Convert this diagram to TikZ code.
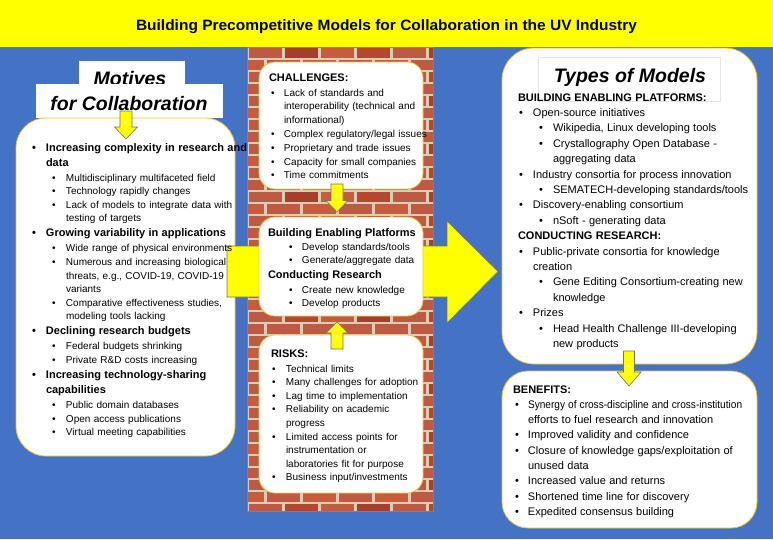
\documentclass[tikz,border=0pt]{standalone}
\usepackage{fontspec}
\setmainfont{Liberation Sans}
\usepackage{graphicx}
\usetikzlibrary{calc}
\definecolor{bgblue}{HTML}{4472C4}
\definecolor{ttlyellow}{HTML}{FFFF00}
\definecolor{boxline}{HTML}{F2C037}
\definecolor{mortar}{HTML}{D9CDB8}
\definecolor{brick0}{HTML}{B5472F}
\definecolor{brick1}{HTML}{C45C3E}
\definecolor{brick2}{HTML}{A53E2B}
\definecolor{brick3}{HTML}{BC5A44}
\newcommand\itm[3]{\leftskip=#1\relax\noindent\hangindent=#2\relax\hangafter=1\relax{\rfont\makebox[#2][l]{\textbullet}#3\par}}
\newcommand\itmb[3]{\leftskip=#1\relax\noindent\hangindent=#2\relax\hangafter=1\relax{\bfont\makebox[#2][l]{\textbullet}#3\par}\vskip\bgap}
\newcommand\hdg[2]{\leftskip=#1\relax\noindent{\bfont #2\par}\vskip\bgap}
\newcommand\fatv[6]{\draw[yarr] ({#1-#4},#2) -- ({#1+#4},#2) -- ({#1+#4},{#3-(#6)}) -- ({#1+#5},{#3-(#6)}) -- (#1,#3) -- ({#1-#5},{#3-(#6)}) -- ({#1-#4},{#3-(#6)}) -- cycle;}
\begin{document}
\begin{tikzpicture}[x=1pt,y=-1pt,
  rbox/.style={draw=boxline, line width=0.8pt, fill=white, inner sep=0pt, outer sep=0pt, anchor=north west},
  wbox/.style={fill=white, inner sep=0pt, outer sep=0pt, anchor=north west},
  txt/.style={inner sep=0pt, outer sep=0pt, anchor=base west, text width=300pt},
  yarr/.style={fill=ttlyellow, draw=black!55, line width=0.6pt, line join=miter},
  clab/.style={text=white, font=\fontsize{6.5}{7}\selectfont, inner sep=0pt},
  bigt/.style={font=\fontsize{19.5}{22}\selectfont\bfseries\itshape, inner sep=0pt, anchor=base}]
\useasboundingbox (0,0) rectangle (773,539);
\fill[bgblue] (0,0) rectangle (773,539);
\fill[ttlyellow] (0,0) rectangle (773,47);
\node[anchor=base, inner sep=0pt] (title) at (386.5,30.7) {\resizebox{501pt}{\height}{\fontsize{15}{18}\selectfont\bfseries Building Precompetitive Models for Collaboration in the UV Industry}};
% brick wall
\begin{scope}
\clip (247,47) rectangle (433,511);
\fill[mortar] (247,47) rectangle (433,511);
\foreach \r in {0,...,38}{
  \foreach \c in {0,...,6}{
    \pgfmathsetmacro\bx{247+(\c-1)*36+mod(\r,2)*18+1.5}
    \pgfmathsetmacro\by{47+\r*12+1}
    \pgfmathtruncatemacro\k{mod(\r*5+\c*3+\r*\c*7,4)}
    \fill[brick\k] (\bx,\by) rectangle ++(33,10);
  }
}
\end{scope}
\node[anchor=north west, minimum width=186pt, minimum height=464pt, inner sep=0pt, outer sep=0pt, draw=black!50, line width=0.5pt] (wall) at (247,47) {};
% motives
\node[wbox, minimum width=106pt, minimum height=34pt] (motboxA) at (79,61) {};
\node[bigt] (motA) at (130,85.5) {Motives};
\node[wbox, minimum width=187pt, minimum height=34pt] (motboxB) at (36,84) {};
\node[bigt] (motB) at (129,110) {for Collaboration};
\node[rbox, rounded corners=30pt, minimum width=219pt, minimum height=338pt] (motbox) at (16,118) {};
\fatv{126}{111}{139}{6}{11.5}{12}
\node[clab] (c1) at (126,123) {c};
% big arrow
\coordinate (bigS) at (227,271.5);
\coordinate (bigT) at (498,271.5);
\draw[yarr] ($(bigS)+(0,-25.5)$) -- ($(bigT)+(-51,-25.5)$) -- ($(bigT)+(-51,-50.5)$) -- (bigT) -- ($(bigT)+(-51,51.5)$) -- ($(bigT)+(-51,25.5)$) -- ($(bigS)+(0,25.5)$) -- cycle;
% center boxes
\node[rbox, rounded corners=16pt, minimum width=164pt, minimum height=127pt] (chal) at (259,62) {};
\node[rbox, rounded corners=16pt, minimum width=164pt, minimum height=99pt] (plat) at (259,217) {};
\node[rbox, rounded corners=16pt, minimum width=164pt, minimum height=158pt] (risk) at (259,335) {};
\fatv{337}{184}{212}{6}{11}{11.5}
\node[clab] (c2) at (337,196) {c};
\fatv{337}{349}{322}{6}{11}{-11}
\node[clab, rotate=180] (c3) at (337,337) {c};
% right boxes
\node[rbox, rounded corners=32pt, minimum width=255pt, minimum height=316pt] (types) at (502,48) {};
\draw[black!10, line width=0.4pt] (538,57) rectangle (720,101);
\node[bigt] (typest) at (630,82.7) {Types of Models};
\node[rbox, rounded corners=26pt, minimum width=255pt, minimum height=157pt] (bene) at (502,371) {};
\fatv{629}{351}{386}{5.5}{12}{14}
\node[clab] (c4) at (629,366) {c};
% texts
\node[txt] (mottxt) at (32,151) {\def\rfont{\fontsize{10}{13.6}\selectfont}\def\bfont{\fontsize{11}{15}\selectfont\bfseries}\def\bgap{1.4pt}%
\itmb{0pt}{14pt}{Increasing complexity in research and\newline data}%
\itm{20pt}{14pt}{Multidisciplinary multifaceted field}%
\itm{20pt}{14pt}{Technology rapidly changes}%
\itm{20pt}{14pt}{Lack of models to integrate data with\newline testing of targets}%
\itmb{0pt}{14pt}{Growing variability in applications}%
\itm{20pt}{14pt}{Wide range of physical environments}%
\itm{20pt}{14pt}{Numerous and increasing biological\newline threats, e.g., COVID-19, COVID-19\newline variants}%
\itm{20pt}{14pt}{Comparative effectiveness studies,\newline modeling tools lacking}%
\itmb{0pt}{14pt}{Declining research budgets}%
\itm{20pt}{14pt}{Federal budgets shrinking}%
\itm{20pt}{14pt}{Private R\&D costs increasing}%
\itmb{0pt}{14pt}{Increasing technology-sharing\newline capabilities}%
\itm{20pt}{14pt}{Public domain databases}%
\itm{20pt}{14pt}{Open access publications}%
\itm{20pt}{14pt}{Virtual meeting capabilities}};
\node[txt] (chaltxt) at (269,81) {\def\rfont{\fontsize{10}{13.8}\selectfont}\def\bfont{\fontsize{11}{15}\selectfont\bfseries}\def\bgap{1.2pt}%
\hdg{0pt}{CHALLENGES:}%
\itm{2pt}{13pt}{Lack of standards and\newline interoperability (technical and\newline informational)}%
\itm{2pt}{13pt}{Complex regulatory/legal issues}%
\itm{2pt}{13pt}{Proprietary and trade issues}%
\itm{2pt}{13pt}{Capacity for small companies}%
\itm{2pt}{13pt}{Time commitments}};
\node[txt] (plattxt) at (268,236) {\def\rfont{\fontsize{10}{13.6}\selectfont}\def\bfont{\fontsize{11}{15}\selectfont\bfseries}\def\bgap{0.6pt}%
\hdg{0pt}{Building Enabling Platforms}%
\itm{21pt}{13pt}{Develop standards/tools}%
\itm{21pt}{13pt}{Generate/aggregate data}%
\hdg{0pt}{Conducting Research}%
\itm{21pt}{13pt}{Create new knowledge}%
\itm{21pt}{13pt}{Develop products}};
\node[txt] (risktxt) at (271,357) {\def\rfont{\fontsize{10}{13.6}\selectfont}\def\bfont{\fontsize{11}{15}\selectfont\bfseries}\def\bgap{1.4pt}%
\hdg{0pt}{RISKS:}%
\itm{1pt}{14pt}{Technical limits}%
\itm{1pt}{14pt}{Many challenges for adoption}%
\itm{1pt}{14pt}{Lag time to implementation}%
\itm{1pt}{14pt}{Reliability on academic\newline progress}%
\itm{1pt}{14pt}{Limited access points for\newline instrumentation or\newline laboratories fit for purpose}%
\itm{1pt}{14pt}{Business input/investments}};
\node[txt] (typestxt) at (518,101) {\def\rfont{\fontsize{11}{15.4}\selectfont}\def\bfont{\fontsize{11}{15.4}\selectfont\bfseries}\def\bgap{0pt}%
\hdg{0pt}{BUILDING ENABLING PLATFORMS:}%
\itm{1pt}{14pt}{Open-source initiatives}%
\itm{21pt}{14pt}{Wikipedia, Linux developing tools}%
\itm{21pt}{14pt}{Crystallography Open Database -\newline aggregating data}%
\itm{1pt}{14pt}{Industry consortia for process innovation}%
\itm{21pt}{14pt}{SEMATECH-developing standards/tools}%
\itm{1pt}{14pt}{Discovery-enabling consortium}%
\itm{21pt}{14pt}{nSoft - generating data}%
\hdg{0pt}{CONDUCTING RESEARCH:}%
\itm{1pt}{14pt}{Public-private consortia for knowledge\newline creation}%
\itm{21pt}{14pt}{Gene Editing Consortium-creating new\newline knowledge}%
\itm{1pt}{14pt}{Prizes}%
\itm{21pt}{14pt}{Head Health Challenge III-developing\newline new products}};
\node[txt] (benetxt) at (513,393) {\def\rfont{\fontsize{11}{15.3}\selectfont}\def\bfont{\fontsize{11}{15.3}\selectfont\bfseries}\def\bgap{0pt}%
\hdg{0pt}{BENEFITS:}%
\itm{2pt}{13pt}{\scalebox{0.92}[1]{Synergy of cross-discipline and cross-institution}\newline efforts to fuel research and innovation}%
\itm{2pt}{13pt}{Improved validity and confidence}%
\itm{2pt}{13pt}{Closure of knowledge gaps/exploitation of\newline unused data}%
\itm{2pt}{13pt}{Increased value and returns}%
\itm{2pt}{13pt}{Shortened time line for discovery}%
\itm{2pt}{13pt}{Expedited consensus building}};
\end{tikzpicture}
\end{document}
